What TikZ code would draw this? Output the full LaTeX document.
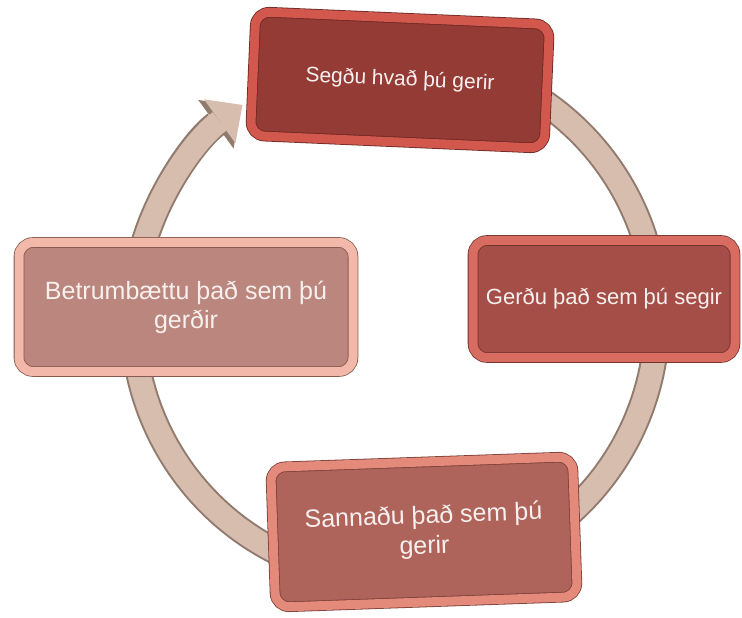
\documentclass[tikz,border=0pt]{standalone}
\usepackage{fontspec}
\setmainfont{Liberation Sans}
\usetikzlibrary{arrows.meta}
\usetikzlibrary{shadows}

\definecolor{ringfill}{HTML}{D6BDAD}
\definecolor{ringedge}{HTML}{917A6E}
\definecolor{txtcol}{HTML}{F8F0EE}
\definecolor{topface}{HTML}{953B35}
\definecolor{topbevel}{HTML}{D2584E}
\definecolor{topedge}{HTML}{6A2823}
\definecolor{rightface}{HTML}{A54E48}
\definecolor{rightbevel}{HTML}{D96C60}
\definecolor{rightedge}{HTML}{73332E}
\definecolor{bottomface}{HTML}{AF645B}
\definecolor{bottombevel}{HTML}{E38A7B}
\definecolor{bottomedge}{HTML}{7A3F38}
\definecolor{leftface}{HTML}{BB867D}
\definecolor{leftbevel}{HTML}{F2B8A9}
\definecolor{leftedge}{HTML}{87594F}

\begin{document}
\begin{tikzpicture}[x=1pt,y=1pt,
    stepbox/.style={rounded corners=14pt, inner sep=0pt, align=center,
      text=txtcol, line width=0.8pt, double distance=9pt,
      drop shadow={opacity=0.3, shadow xshift=3pt, shadow yshift=-4pt}},
    tone/.style={fill=#1face, draw=#1edge, double=#1bevel}]
  \useasboundingbox (0,0) rectangle (742,618);

  % the cycle ring
  \coordinate (hub) at (395,300);
  \draw[line width=27pt, ringedge,
    -{Triangle[width=60pt,length=31pt,line width=0pt]}]
    ([shift={(70:262)}]hub) arc[start angle=70, end angle=-234, radius=262];
  \draw[line width=23pt, ringfill,
    -{Triangle[width=54pt,length=28pt,line width=0pt]}]
    ([shift={(70:262)}]hub) arc[start angle=70, end angle=-234.4, radius=262];

  % the four steps
  \node[stepbox, tone=top, rotate=-2.5, minimum width=294, minimum height=124,
    font=\fontsize{21}{25}\selectfont] (say) at (400,538)
    {Segðu hvað þú gerir};
  \node[stepbox, tone=right, minimum width=262, minimum height=117,
    font=\fontsize{22}{26}\selectfont] (do) at (604,319)
    {Gerðu það sem þú segir};
  \node[stepbox, tone=bottom, rotate=2, minimum width=302, minimum height=140,
    font=\fontsize{25}{30}\selectfont] (prove) at (424,86)
    {Sannaðu það sem þú\\ gerir};
  \node[stepbox, tone=left, minimum width=334, minimum height=129,
    font=\fontsize{25}{29}\selectfont] (improve) at (186,311)
    {Betrumbættu það sem þú\\ gerðir};
\end{tikzpicture}
\end{document}
